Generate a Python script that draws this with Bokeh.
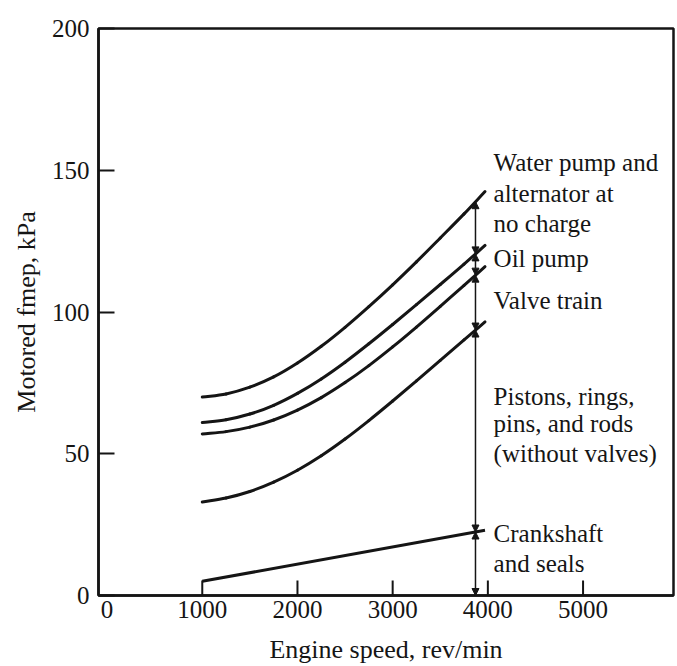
import numpy as np
from bokeh.plotting import figure
from bokeh.models import Range1d, FixedTicker, Arrow, NormalHead, ColumnDataSource
from bokeh.core.properties import value
from bokeh.embed import file_html
from bokeh.resources import INLINE

# Motored fmep breakdown (kPa) against engine speed (rev/min); each curve is cumulative
speed = [1000, 1250, 1500, 1750, 2000, 2250, 2500, 2750, 3000, 3250, 3500, 3750, 3970]
water_pump = [70, 71.1, 73.5, 77.1, 82.0, 87.9, 94.6, 101.9, 109.6, 117.7, 126.1, 134.6, 142.5]
oil_pump = [61, 62, 64, 67.1, 71.3, 76.4, 82.3, 88.8, 95.6, 102.6, 109.7, 116.9, 123.5]
valve_train = [57, 57.8, 59.4, 61.9, 65.4, 69.8, 75.1, 81.1, 87.7, 94.7, 102.0, 109.4, 116]
pistons = [33, 34.4, 36.7, 40.0, 44.2, 49.3, 55.2, 61.7, 68.6, 75.7, 82.9, 90.2, 96.5]
crank_speed = [1000, 3970]
crankshaft = [5, 23]

x_tick_labels = [0, 1000, 2000, 3000, 4000, 5000]
x_tick_marks = [1000, 2000, 3000, 4000, 5000]
y_ticks = [0, 50, 100, 150, 200]

label_lines = ["Water pump and", "alternator at", "no charge", "Oil pump",
               "Valve train", "Pistons, rings,", "pins, and rods",
               "(without valves)", "Crankshaft", "and seals"]
label_y = [152.7, 141.9, 131.2, 118.7, 104.2, 70.2, 60.7, 50.2, 21.7, 11.2]

LABEL_X = 4060
BRACKET_X = 3870
FONT = "Liberation Serif"
INK = "#151515"

W, H = 677, 666
BORDER_L, BORDER_R, BORDER_T, BORDER_B = 98, 4, 28, 71
Y_MAX = 200
FRAME_H = H - BORDER_T - BORDER_B
TICK_PX = 15
tick_len = TICK_PX * Y_MAX / FRAME_H   # inward speed-axis tick length in kPa

p = figure(width=W, height=H,
           x_range=Range1d(-90, 5950), y_range=Range1d(0, Y_MAX),
           output_backend="svg", toolbar_location=None,
           min_border_left=BORDER_L, min_border_right=BORDER_R,
           min_border_top=BORDER_T, min_border_bottom=BORDER_B,
           background_fill_color="white", border_fill_color="white")

p.xgrid.visible = False
p.ygrid.visible = False
p.outline_line_color = INK
p.outline_line_width = 2.5

for ax in (p.xaxis[0], p.yaxis[0]):
    ax.axis_line_color = INK
    ax.axis_line_width = 2.5
    ax.major_tick_line_color = INK
    ax.major_tick_line_width = 2
    ax.major_tick_out = 0
    ax.minor_tick_line_color = None
    ax.major_label_text_font = FONT
    ax.major_label_text_font_size = "25px"
    ax.major_label_text_color = INK
    ax.axis_label_text_font = FONT
    ax.axis_label_text_font_size = "26px"
    ax.axis_label_text_font_style = "normal"
    ax.axis_label_text_color = INK

p.xaxis.ticker = FixedTicker(ticks=x_tick_labels)
p.xaxis.major_tick_in = 0
p.xaxis.major_label_standoff = 5
p.xaxis.axis_label = "Engine speed, rev/min"
p.xaxis.axis_label_standoff = 14

p.yaxis.ticker = FixedTicker(ticks=y_ticks)
p.yaxis.major_tick_in = 16
p.yaxis.major_label_standoff = 9
p.yaxis.axis_label = "Motored fmep, kPa"
p.yaxis.axis_label_standoff = 8

# inward ticks on the speed axis (none at the origin)
p.segment(x0=x_tick_marks, y0=[0] * len(x_tick_marks),
          x1=x_tick_marks, y1=[tick_len] * len(x_tick_marks),
          line_width=2, line_color=INK)


def smooth_curve(xs, ys):
    """Cubic Bezier pieces through every point (Catmull-Rom tangents)."""
    xs = np.asarray(xs, float)
    ys = np.asarray(ys, float)
    n = len(xs)
    xp = np.concatenate([[2 * xs[0] - xs[1]], xs, [2 * xs[-1] - xs[-2]]])
    yp = np.concatenate([[2 * ys[0] - ys[1]], ys, [2 * ys[-1] - ys[-2]]])
    seg = {k: [] for k in ("x0", "y0", "x1", "y1", "cx0", "cy0", "cx1", "cy1")}
    for i in range(1, n):
        seg["x0"].append(xp[i]); seg["y0"].append(yp[i])
        seg["x1"].append(xp[i + 1]); seg["y1"].append(yp[i + 1])
        seg["cx0"].append(xp[i] + (xp[i + 1] - xp[i - 1]) / 6)
        seg["cy0"].append(yp[i] + (yp[i + 1] - yp[i - 1]) / 6)
        seg["cx1"].append(xp[i + 1] - (xp[i + 2] - xp[i]) / 6)
        seg["cy1"].append(yp[i + 1] - (yp[i + 2] - yp[i]) / 6)
    return ColumnDataSource(seg)


# cumulative friction curves
for series in (water_pump, oil_pump, valve_train, pistons):
    p.bezier(x0="x0", y0="y0", x1="x1", y1="y1", cx0="cx0", cy0="cy0",
             cx1="cx1", cy1="cy1", source=smooth_curve(speed, series),
             line_width=3, line_color=INK, line_cap="round")
p.line(crank_speed, crankshaft, line_width=3, line_color=INK)

# dimension line splitting the total into its components
levels = [0.0,
          float(np.interp(BRACKET_X, crank_speed, crankshaft)),
          float(np.interp(BRACKET_X, speed, pistons)),
          float(np.interp(BRACKET_X, speed, valve_train)),
          float(np.interp(BRACKET_X, speed, oil_pump)),
          float(np.interp(BRACKET_X, speed, water_pump))]
for lo, hi in zip(levels[:-1], levels[1:]):
    p.add_layout(Arrow(
        start=NormalHead(size=7, fill_color=INK, line_color=INK),
        end=NormalHead(size=7, fill_color=INK, line_color=INK),
        x_start=BRACKET_X, y_start=lo, x_end=BRACKET_X, y_end=hi,
        line_width=1.5, line_color=INK))

# component names
src = ColumnDataSource(dict(x=[LABEL_X] * len(label_lines), y=label_y, text=label_lines))
p.text(x="x", y="y", text="text", source=src,
       text_font=value(FONT), text_font_size="25px", text_color=INK,
       text_align="left", text_baseline="alphabetic")

open("out.html", "w").write(file_html(p, INLINE))
